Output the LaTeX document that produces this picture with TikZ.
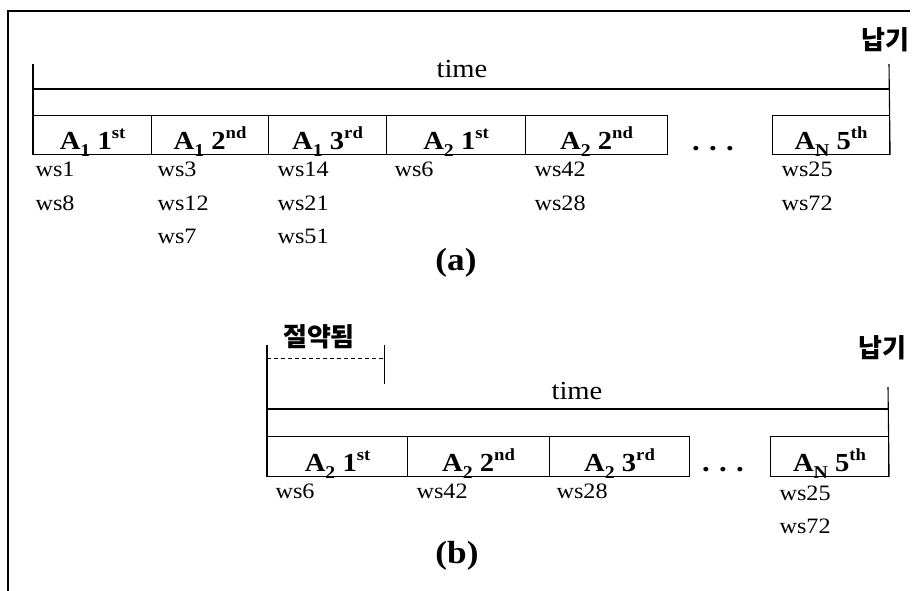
\documentclass[tikz,border=0pt]{standalone}
\usepackage{fontspec}
\setmainfont{Liberation Serif}[FakeStretch=1.1]
\newfontfamily\kr{Noto Sans CJK KR}
\newcommand\lsub[1]{\raisebox{-0.28em}{\fontsize{18}{18}\selectfont #1}}
\newcommand\lsup[1]{\raisebox{0.4em}{\fontsize{17}{17}\selectfont #1}}
\begin{document}
\begin{tikzpicture}[x=1pt,y=-1pt,line width=1.1pt,
  seg/.style={draw,inner sep=0pt,minimum height=39pt,anchor=north west},
  lab/.style={anchor=base,inner sep=0pt,font=\fontsize{26}{26}\selectfont\bfseries},
  ws/.style={anchor=base west,inner sep=0pt,font=\fontsize{22}{22}\selectfont},
  timelab/.style={anchor=base,inner sep=0pt,font=\fontsize{26}{26}\selectfont},
  krlab/.style={anchor=base,inner sep=0pt,font=\fontsize{26}{26}\selectfont\kr\bfseries},
  captxt/.style={anchor=base,inner sep=0pt,font=\fontsize{32}{32}\selectfont\bfseries},
  dotstxt/.style={anchor=base,inner sep=0pt,font=\fontsize{28}{28}\selectfont\bfseries},
]
\useasboundingbox (0,0) rectangle (912,591);
% frame
\coordinate (fbl) at (8,591);
\coordinate (ftl) at (8,11);
\coordinate (ftr) at (910,11);
\draw (fbl) -- (ftl) -- (ftr);

% ---------- (a) ----------
\node[seg,minimum width=118pt] (a1) at (33,115) {};
\node[seg,minimum width=117pt] (a2) at (151,115) {};
\node[seg,minimum width=118pt] (a3) at (268,115) {};
\node[seg,minimum width=139pt] (a4) at (386,115) {};
\node[seg,minimum width=142pt] (a5) at (525,115) {};
\node[seg,minimum width=117pt] (an) at (772,115) {};
\coordinate (atl) at (33,64);
\coordinate (atr) at (889,64);
\coordinate (ahl) at (33,89);
\coordinate (ahr) at (889,89);
\draw (atl) -- (a1.south west);
\draw (atr) -- (an.south east);
\draw (ahl) -- (ahr);
\node[timelab] (atime) at (462,78) {time};
\node[krlab] (anapgi) at (885,50) {납기};

\node[lab] (a1t) at ([yshift=6pt]a1.south) {A\lsub{1} 1\lsup{st}};
\node[lab] (a2t) at ([yshift=6pt]a2.south) {A\lsub{1} 2\lsup{nd}};
\node[lab] (a3t) at ([yshift=6pt]a3.south) {A\lsub{1} 3\lsup{rd}};
\node[lab] (a4t) at ([yshift=6pt]a4.south) {A\lsub{2} 1\lsup{st}};
\node[lab] (a5t) at ([yshift=6pt]a5.south) {A\lsub{2} 2\lsup{nd}};
\node[lab] (ant) at ([yshift=6pt]an.south) {A\lsub{N} 5\lsup{th}};
\node[dotstxt] (adots) at (713,150) {.\,\,.\,\,.};

\node[ws] (w11) at (35,176) {ws1};
\node[ws] (w12) at (35,210) {ws8};
\node[ws] (w21) at (157,176) {ws3};
\node[ws] (w22) at (157,210) {ws12};
\node[ws] (w23) at (157,243) {ws7};
\node[ws] (w31) at (277,176) {ws14};
\node[ws] (w32) at (277,210) {ws21};
\node[ws] (w33) at (277,243) {ws51};
\node[ws] (w41) at (394,176) {ws6};
\node[ws] (w51) at (534,176) {ws42};
\node[ws] (w52) at (534,210) {ws28};
\node[ws] (w61) at (781,176) {ws25};
\node[ws] (w62) at (781,210) {ws72};
\node[captxt] (acap) at (456,270) {(a)};

% ---------- (b) ----------
\node[seg,minimum width=140pt,minimum height=40pt] (b1) at (267,436) {};
\node[seg,minimum width=142pt,minimum height=40pt] (b2) at (407,436) {};
\node[seg,minimum width=140pt,minimum height=40pt] (b3) at (549,436) {};
\node[seg,minimum width=118pt,minimum height=40pt] (bn) at (770,436) {};
\coordinate (btl) at (267,345);
\coordinate (btr) at (888,387);
\coordinate (bhl) at (267,409);
\coordinate (bhr) at (888,409);
\coordinate (bdl) at (267,358);
\coordinate (bdr) at (384,358);
\coordinate (bkt) at (384,345);
\coordinate (bkb) at (384,384);
\draw (btl) -- (b1.south west);
\draw (btr) -- (bn.south east);
\draw (bhl) -- (bhr);
\draw[line width=0.9pt,dash pattern=on 4pt off 3pt] (bdl) -- (bdr);
\draw[line width=0.9pt] (bkt) -- (bkb);
\node[krlab] (bsave) at (319,346) {절약됨};
\node[timelab] (btime) at (577,399) {time};
\node[krlab] (bnapgi) at (882,357) {납기};

\node[lab] (b1t) at ([yshift=6pt]b1.south) {A\lsub{2} 1\lsup{st}};
\node[lab] (b2t) at ([yshift=6pt]b2.south) {A\lsub{2} 2\lsup{nd}};
\node[lab] (b3t) at ([yshift=6pt]b3.south) {A\lsub{2} 3\lsup{rd}};
\node[lab] (bnt) at ([yshift=6pt]bn.south) {A\lsub{N} 5\lsup{th}};
\node[dotstxt] (bdots) at (723,471) {.\,\,.\,\,.};

\node[ws] (v11) at (275,498) {ws6};
\node[ws] (v21) at (416,498) {ws42};
\node[ws] (v31) at (556,498) {ws28};
\node[ws] (v41) at (779,500) {ws25};
\node[ws] (v42) at (779,533) {ws72};
\node[captxt] (bcap) at (457,563) {(b)};
\end{tikzpicture}
\end{document}
